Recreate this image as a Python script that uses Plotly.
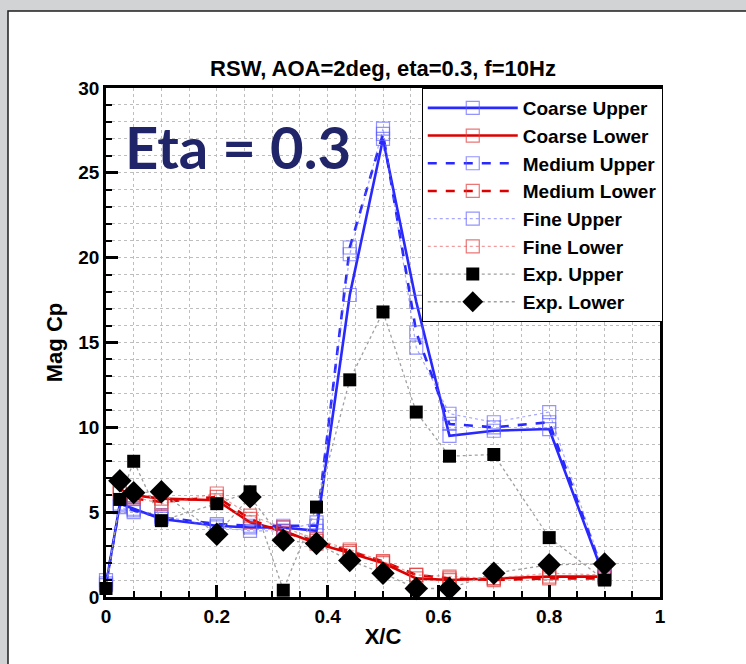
import plotly.graph_objects as go

# ---------------- data ----------------
x_upper = [0.0, 0.025, 0.05, 0.1, 0.2, 0.26, 0.32, 0.38, 0.44, 0.5, 0.56, 0.62, 0.7, 0.8, 0.9]
x_lower = [0.025, 0.05, 0.1, 0.2, 0.26, 0.32, 0.38, 0.44, 0.5, 0.56, 0.62, 0.7, 0.8, 0.9]

coarse_upper = [0.7, 5.5, 5.2, 4.6, 4.2, 4.1, 4.1, 3.9, 17.8, 27.0, 17.4, 9.5, 9.8, 9.9, 1.1]
medium_upper = [0.8, 5.4, 5.1, 4.7, 4.3, 4.2, 4.2, 4.2, 20.6, 27.3, 15.6, 10.2, 10.0, 10.3, 1.2]
fine_upper   = [1.0, 5.3, 5.0, 4.8, 4.1, 3.9, 3.9, 4.4, 20.2, 27.6, 14.7, 10.8, 10.3, 10.9, 1.3]

coarse_lower = [6.3, 6.0, 5.8, 5.7, 4.4, 3.9, 3.15, 2.6, 2.0, 1.1, 1.0, 1.1, 1.2, 1.2]
medium_lower = [6.4, 5.8, 5.6, 5.9, 4.6, 3.8, 3.3, 2.7, 2.1, 1.3, 1.1, 1.0, 1.1, 1.1]
fine_lower   = [6.1, 5.9, 5.5, 6.1, 4.8, 4.1, 3.4, 2.8, 2.1, 1.3, 1.2, 1.1, 1.4, 1.3]

exp_x_upper = [0.0, 0.025, 0.05, 0.1, 0.2, 0.26, 0.32, 0.38, 0.44, 0.5, 0.56, 0.62, 0.7, 0.8, 0.9]
exp_upper   = [0.5, 5.75, 8.0, 4.5, 5.5, 6.2, 0.4, 5.3, 12.8, 16.8, 10.9, 8.3, 8.4, 3.5, 1.0]
exp_x_lower = [0.025, 0.05, 0.1, 0.2, 0.26, 0.32, 0.38, 0.44, 0.5, 0.56, 0.62, 0.7, 0.8, 0.9]
exp_lower   = [6.85, 6.15, 6.2, 3.7, 5.9, 3.35, 3.15, 2.15, 1.4, 0.5, 0.5, 1.4, 1.9, 1.95]

x_ticks = [0, 0.2, 0.4, 0.6, 0.8, 1]
x_tick_labels = ["0", "0.2", "0.4", "0.6", "0.8", "1"]
y_ticks = [0, 5, 10, 15, 20, 25, 30]

# ---------------- styling ----------------
BLUE = "rgb(40,40,255)"
RED = "rgb(220,0,0)"
PALE_BLUE = "rgba(90,90,255,0.65)"
PALE_RED = "rgba(225,60,60,0.7)"
FONT = "Liberation Sans, Arial, Helvetica, sans-serif"

fig = go.Figure()

def cfd(name, x, y, color, dash, width, mcolor, lcolor=None):
    fig.add_trace(go.Scatter(
        x=x, y=y, name=name, mode="lines+markers", cliponaxis=False,
        line=dict(color=lcolor or color, dash=dash, width=width),
        marker=dict(symbol="square-open", size=13, color=mcolor,
                    line=dict(width=1.2, color=mcolor)),
    ))

cfd("Coarse Upper", x_upper, coarse_upper, BLUE, "solid", 2.6, PALE_BLUE)
cfd("Coarse Lower", x_lower, coarse_lower, RED, "solid", 2.6, PALE_RED)
cfd("Medium Upper", x_upper, medium_upper, BLUE, "dash", 2.6, PALE_BLUE)
cfd("Medium Lower", x_lower, medium_lower, RED, "dash", 2.6, PALE_RED)
cfd("Fine Upper", x_upper, fine_upper, BLUE, "dot", 1.2, PALE_BLUE, "rgba(110,110,255,0.6)")
cfd("Fine Lower", x_lower, fine_lower, RED, "dot", 1.2, PALE_RED, "rgba(230,90,90,0.6)")

fig.add_trace(go.Scatter(
    x=exp_x_upper, y=exp_upper, name="Exp. Upper", mode="lines+markers", cliponaxis=False,
    line=dict(color="rgb(160,160,160)", dash="dot", width=1.3),
    marker=dict(symbol="square", size=13, color="black"),
))
fig.add_trace(go.Scatter(
    x=exp_x_lower, y=exp_lower, name="Exp. Lower", mode="lines+markers", cliponaxis=False,
    line=dict(color="rgb(160,160,160)", dash="dot", width=1.3),
    marker=dict(symbol="diamond", size=18, color="black"),
))

W, H = 746, 664
L, R, T, B = 106, 86, 88, 67
pw, ph = W - L - R, H - T - B

def px_x(p):
    return (p - L) / pw

def px_y(p):
    return (H - B - p) / ph

axis_common = dict(
    showline=True, linecolor="black", linewidth=2.5, mirror=True,
    ticks="inside", ticklen=12, tickwidth=2.5, tickcolor="black",
    showgrid=True, gridcolor="rgb(190,190,190)", griddash="dot", gridwidth=1,
    zeroline=False,
    tickfont=dict(family=FONT, size=19, color="black", weight="bold"),
)

fig.update_xaxes(
    range=[0, 1], tickvals=x_ticks, ticktext=x_tick_labels,
    minor=dict(dtick=0.05, ticks="inside", ticklen=6, tickwidth=1.5, tickcolor="black",
               showgrid=True, gridcolor="rgb(190,190,190)", griddash="dot", gridwidth=1),
    title=dict(text="X/C", font=dict(family=FONT, size=22, color="black", weight="bold"), standoff=4),
    **axis_common,
)
fig.update_yaxes(
    range=[0, 30], tickvals=y_ticks,
    minor=dict(dtick=1, ticks="inside", ticklen=6, tickwidth=1.5, tickcolor="black",
               showgrid=True, gridcolor="rgb(190,190,190)", griddash="dot", gridwidth=1),
    title=dict(text="Mag Cp", font=dict(family=FONT, size=22, color="black", weight="bold"), standoff=10),
    **axis_common,
)

fig.update_layout(
    width=W, height=H,
    margin=dict(l=L, r=R, t=T, b=B, autoexpand=False),
    paper_bgcolor="rgb(210,211,213)",
    plot_bgcolor="white",
    title=dict(text="RSW, AOA=2deg, eta=0.3, f=10Hz", x=(L + pw / 2) / W, xanchor="center",
               y=1 - 68 / H, yanchor="middle", yref="container",
               font=dict(family=FONT, size=22, color="black", weight="bold")),
    legend=dict(x=1.005, y=1.0, xanchor="right", yanchor="top",
                bgcolor="white", bordercolor="black", borderwidth=1,
                font=dict(family=FONT, size=19, color="black", weight="bold"),
                tracegroupgap=0, itemwidth=90),
    showlegend=True,
    shapes=[dict(type="rect", xref="paper", yref="paper", layer="below",
                 x0=px_x(8), x1=px_x(760), y0=px_y(680), y1=px_y(11),
                 fillcolor="white", line=dict(color="rgb(30,30,30)", width=1.5))],
    annotations=[dict(text="Eta = 0.3", xref="paper", yref="paper",
                      x=px_x(238), y=px_y(146), xanchor="center", yanchor="middle",
                      showarrow=False,
                      font=dict(family="Lato, Open Sans, sans-serif", size=58,
                                color="rgb(32,36,104)", weight="bold"))],
)

fig.write_html("out.html")
